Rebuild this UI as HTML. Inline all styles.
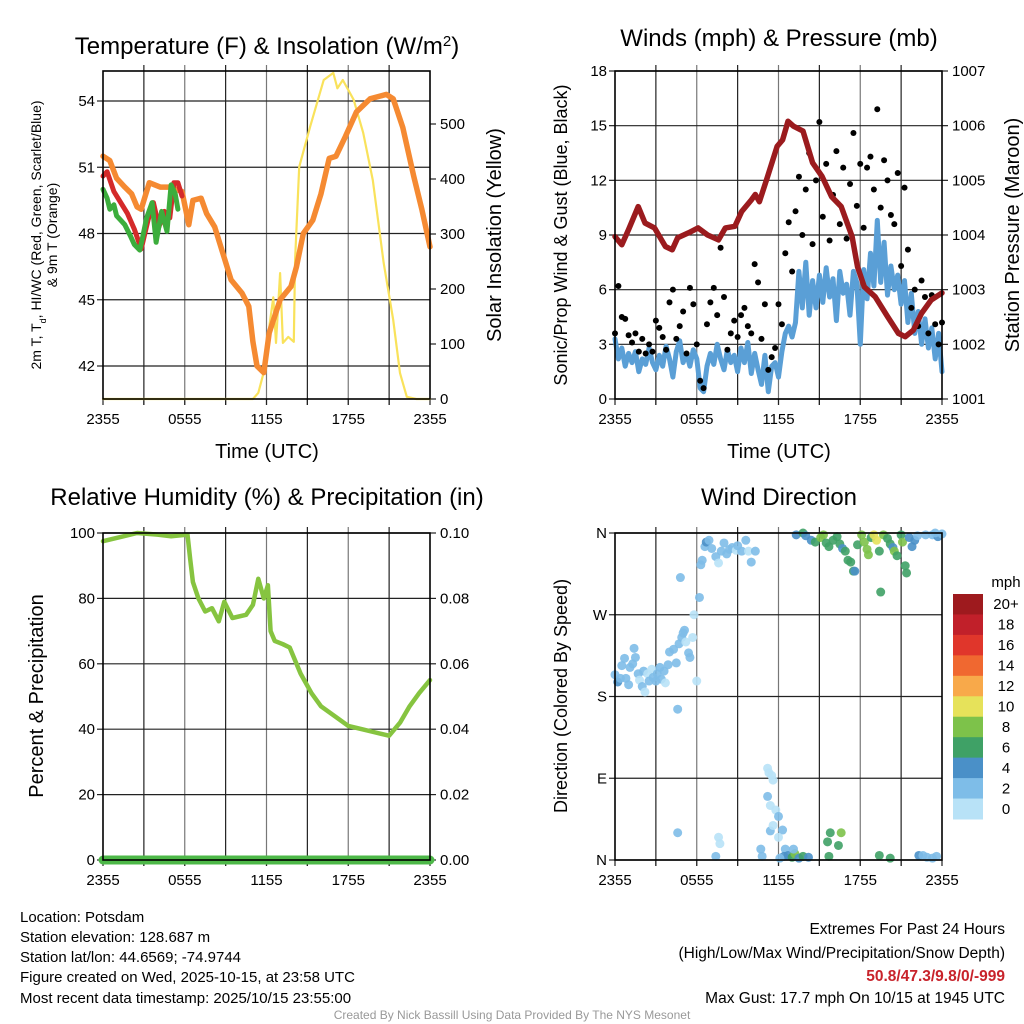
<!DOCTYPE html>
<html><head><meta charset="utf-8"><style>
html,body{margin:0;padding:0;background:#fff;}
svg{display:block;font-family:"Liberation Sans",Arial,sans-serif;}
</style></head><body>
<svg id="c" width="1024" height="1024" viewBox="0 0 1024 1024" xmlns="http://www.w3.org/2000/svg">
<rect width="1024" height="1024" fill="#fff"/>
<text x="267" y="54" font-size="24" text-anchor="middle">Temperature (F) &amp; Insolation (W/m<tspan baseline-shift="super" font-size="15">2</tspan>)</text>
<text x="779" y="46" font-size="24" text-anchor="middle">Winds (mph) &amp; Pressure (mb)</text>
<text x="267" y="505" font-size="24" text-anchor="middle">Relative Humidity (%) &amp; Precipitation (in)</text>
<text x="779" y="505" font-size="24" text-anchor="middle">Wind Direction</text>
<text transform="translate(41,235) rotate(-90)" font-size="14" text-anchor="middle">2m T, T<tspan baseline-shift="sub" font-size="9">d</tspan>, HI/WC (Red, Green, Scarlet/Blue)</text>
<text transform="translate(57,235) rotate(-90)" font-size="14" text-anchor="middle">&amp; 9m T (Orange)</text>
<text transform="translate(501,235) rotate(-90)" font-size="20" text-anchor="middle">Solar Insolation (Yellow)</text>
<text transform="translate(567,235) rotate(-90)" font-size="18" text-anchor="middle">Sonic/Prop Wind &amp; Gust (Blue, Black)</text>
<text transform="translate(1019,235) rotate(-90)" font-size="20" text-anchor="middle">Station Pressure (Maroon)</text>
<text transform="translate(43,696) rotate(-90)" font-size="20" text-anchor="middle">Percent &amp; Precipitation</text>
<text transform="translate(567,696) rotate(-90)" font-size="18" text-anchor="middle">Direction (Colored By Speed)</text>
<text x="267" y="458" font-size="20" text-anchor="middle">Time (UTC)</text>
<text x="779" y="458" font-size="20" text-anchor="middle">Time (UTC)</text>
<g font-size="15">
<text x="20" y="922">Location: Potsdam</text>
<text x="20" y="942">Station elevation: 128.687 m</text>
<text x="20" y="962">Station lat/lon: 44.6569; -74.9744</text>
<text x="20" y="982">Figure created on Wed, 2025-10-15, at 23:58 UTC</text>
<text x="20" y="1003">Most recent data timestamp: 2025/10/15 23:55:00</text>
</g>
<g font-size="15.5" text-anchor="end">
<text x="1005" y="934">Extremes For Past 24 Hours</text>
<text x="1005" y="958">(High/Low/Max Wind/Precipitation/Snow Depth)</text>
<text x="1005" y="981" fill="#c8232b" font-weight="bold">50.8/47.3/9.8/0/-999</text>
<text x="1005" y="1003">Max Gust: 17.7 mph On 10/15 at 1945 UTC</text>
</g>
<text x="512" y="1019" font-size="12" fill="#999" text-anchor="middle">Created By Nick Bassill Using Data Provided By The NYS Mesonet</text>
<text x="1006" y="587" font-size="15" text-anchor="middle">mph</text>
<g id="layer"></g>
</svg>
<script>
// ---- data (hours since 2355) ----
const orangeHours=[0,0.5,1.0,1.6,2.1,2.5,2.8,3.4,4.2,4.9,5.8,6.3,6.6,7.2,7.6,8.2,8.8,9.4,10.2,10.7,11.0,11.3,11.8,12.2,13.0,13.8,14.2,14.7,15.4,16.0,16.6,17.1,17.8,18.6,19.6,20.8,21.3,22.0,22.8,23.4,24];
const orangeTemp=[51.5,51.3,50.5,50.1,49.8,49.2,49.1,50.3,50.1,50.1,49.9,48.4,49.5,49.6,48.9,48.3,47.1,45.9,45.3,44.7,43.1,42.0,41.7,43.5,45.0,45.6,46.5,48.0,48.6,49.8,51.4,51.5,52.4,53.5,54.1,54.3,54.1,52.8,50.6,49.1,47.4];
const redHours=[0,0.3,0.8,1.3,1.8,2.3,2.8,3.3,3.7,4.1,4.5,4.9,5.2,5.5,5.8];
const redTemp=[50.6,50.8,49.9,49.4,48.9,48.2,47.3,48.6,49.4,48.3,49.0,48.7,50.3,50.3,49.7];
const greenHours=[0,0.3,0.5,0.8,1.0,1.3,1.6,2.0,2.3,2.7,2.9,3.2,3.6,3.9,4.3,4.7,5.0,5.3,5.5];
const greenTemp=[50.0,49.6,49.1,49.3,48.8,48.6,48.4,47.9,47.5,47.25,47.8,48.7,49.4,47.6,49.0,48.1,50.2,49.8,49.1];
const solarHours=[0,11.0,11.4,11.9,12.2,12.5,12.7,13.0,13.2,13.6,14.0,14.1,14.4,15.2,16.2,16.9,17.2,17.6,18.4,19.1,19.8,20.6,21.3,21.8,22.3,23,24];
const solarWm2=[0,0,11,58,130,185,102,229,102,113,104,253,422,495,580,593,565,580,544,484,398,247,144,47,4,0,0];
const pressHours=[0,0.5,1.0,1.7,2.2,2.9,3.7,4.2,4.6,5.4,6.1,6.8,7.6,8.1,8.8,9.3,10.0,10.3,10.6,11.2,11.9,12.3,12.7,13.1,13.8,14.5,15.2,15.9,16.6,17.4,17.8,18.3,19.1,20.0,20.8,21.3,21.9,22.5,23.2,24];
const pressMb=[1003.97,1003.82,1004.1,1004.52,1004.22,1004.13,1003.79,1003.73,1003.95,1004.04,1004.13,1004.0,1003.91,1004.13,1004.16,1004.43,1004.64,1004.74,1004.61,1005.07,1005.62,1005.74,1006.08,1005.99,1005.9,1005.32,1005.07,1004.7,1004.52,1003.97,1003.42,1003.05,1002.87,1002.51,1002.2,1002.14,1002.26,1002.57,1002.81,1002.94];
const windMph=[3.3,2.2,2.8,1.8,2.5,2.0,2.6,1.5,2.2,1.9,2.8,2.0,1.6,
2.4,1.8,2.9,2.2,1.2,2.6,3.2,2.0,2.5,1.8,2.7,2.2,
0.6,0.4,1.8,2.5,1.9,3.0,2.2,1.6,2.7,2.0,2.4,1.5,
2.8,2.0,3.1,1.4,2.5,1.6,0.8,2.4,0.4,1.8,2.0,1.2,
2.6,3.6,4.0,3.4,4.2,7.0,5.0,7.5,4.6,6.5,5.0,6.8,
5.3,7.2,5.6,6.6,4.3,7.0,5.8,6.3,4.6,7.0,6.4,3.0,
7.1,5.5,8.0,6.2,9.8,6.4,8.6,5.7,7.3,6.0,6.8,5.2,
6.5,4.2,5.8,3.6,4.8,3.0,4.4,2.8,3.9,2.2,3.6,1.5];
const gustMph=[3.6,6.2,4.5,4.4,3.5,3.1,3.6,2.6,3.3,2.5,3.0,2.6,4.3,
3.9,3.4,2.7,5.3,6.0,3.3,4.0,4.8,2.5,6.1,5.2,3.0,
1.0,0.6,4.1,5.3,6.1,4.6,8.3,5.6,2.7,3.6,4.3,3.4,
4.6,5.0,4.0,3.6,7.4,6.4,3.3,5.2,1.6,2.3,2.8,5.2,
4.1,8.0,9.7,7.0,10.3,12.2,9.0,11.5,13.5,8.5,12.0,15.2,
10.0,12.9,8.7,11.2,13.6,9.6,12.7,8.8,11.8,14.6,10.6,12.9,
9.4,12.7,13.3,11.5,15.9,10.5,13.1,12.0,10.1,9.6,12.4,7.3,
11.6,8.2,5.0,6.0,4.0,6.5,5.6,3.6,5.7,4.1,3.0,4.2];
const rhHours=[0,1.5,2.5,4,5,6.2,6.4,6.6,7,7.5,8,8.5,8.9,9.5,10.5,11.0,11.4,11.8,12.1,12.3,12.6,13.2,13.7,14.5,15.3,16,17,18,19,20,21,21.8,22.5,23.2,24];
const rhPct=[97.5,99,100,99.5,99,99.5,92,85,80,76,77,73,79,74,75,78,86,80,84,70,67,66,65,57,51,47,44,41,40,39,38,42,47,51,55];
const precipIn=[0,0,0,0,0,0,0,0,0,0,0,0,0,0,0,0,0,0,0,0,0,0,0,0,0];
const dirHours=[0.0,0.2,0.4,0.5,0.7,0.8,1.0,1.1,1.3,1.4,1.5,1.7,1.8,2.0,2.1,2.2,2.4,2.5,2.7,2.8,3.0,3.1,3.3,3.4,3.6,3.7,3.9,4.0,4.3,4.5,4.6,4.7,4.8,4.9,5.0,5.1,5.2,5.4,5.5,5.7,5.8,6.0,6.2,6.3,6.4,6.6,6.7,6.9,7.1,7.4,7.6,7.8,8.0,8.2,8.4,8.6,8.9,9.0,9.3,9.6,9.8,10.0,10.3,
11.2,11.3,11.5,11.6,11.2,11.4,11.8,12.0,11.4,11.6,12.3,12.0,12.5,12.4,12.7,13.0,13.2,13.5,13.8,14.2,13.1,12.1,
4.6,7.6,7.7,7.4,10.7,10.8,15.8,16.6,15.6,16.4,15.7,19.4,20.2,22.3,22.6,22.9,23.3,23.6,
13.3,13.8,14.0,14.4,14.7,15.1,15.3,15.5,15.7,16.0,16.3,16.5,16.7,16.9,17.1,17.3,17.5,17.6,17.8,18.1,18.3,18.5,18.6,18.8,19.0,19.2,19.4,19.5,19.7,20.0,20.2,20.4,20.5,20.7,21.0,21.1,21.3,21.4,21.6,21.8,22.0,22.2,22.8,23.3,23.7,24.0,23.5];
const dirDeg=[204,196,200,214,222,200,193,212,216,233,223,205,198,191,208,185,205,197,210,201,197,205,212,199,208,195,215,229,232,217,166,238,311,245,250,253,240,228,223,245,270,197,289,325,330,345,350,352,343,334,327,340,349,337,342,344,341,346,340,352,340,328,340,
101,96,93,88,70,60,55,48,32,38,33,25,12,4,5,3,7,2,4,3,12,2,
30,25,18,4,12,4,30,30,20,16,4,5,2,5,5,3,2,4,
358,360,357,352,350,355,358,349,345,352,356,348,343,340,330,328,318,318,347,358,350,342,336,355,358,352,340,295,358,354,348,344,340,335,358,350,324,316,355,345,352,357,358,358,356,359,360];
const dirSpeed=[2,4,2,2,2,2,2,2,2,2,2,2,0,2,2,0,0,2,0,2,2,2,2,2,2,0,2,2,2,2,2,2,2,2,2,2,0,2,2,0,0,0,2,2,2,2,4,2,2,2,0,2,2,2,2,2,0,2,2,2,0,2,2,
0,0,0,0,2,0,0,2,2,0,2,0,2,4,4,6,8,4,6,4,2,2,
2,0,0,2,2,2,6,8,6,6,6,6,6,4,2,2,2,2,
4,6,4,4,6,8,8,6,6,6,6,6,4,6,6,6,6,4,6,8,8,8,8,6,10,10,6,6,8,6,6,4,8,6,6,8,6,6,4,4,4,2,2,2,4,2,2];
const speedLabels=['0','2','4','6','8','10','12','14','16','18','20+'];
const speedColors=['#b8e2f7','#7ebde8','#4a90c8','#3fa166','#7dc24a','#e6e25a','#f8a94a','#f06830','#e0362b','#c1202a','#9e1a1e'];
const timeTickLabels=['2355','0555','1155','1755','2355'];
const tempTicks=[42,45,48,51,54];
const solarTicks=[0,100,200,300,400,500];
const windTicks=[0,3,6,9,12,15,18];
const pressTicks=[1001,1002,1003,1004,1005,1006,1007];
const rhTicks=[0,20,40,60,80,100];
const precipTicks=['0.00','0.02','0.04','0.06','0.08','0.10'];
const dirTicks=[0,90,180,270,360];
const dirTickLabels=['N','E','S','W','N'];

const NS='http://www.w3.org/2000/svg';
const layer=document.getElementById('layer');
function E(tag,parent){const e=document.createElementNS(NS,tag);(parent||layer).appendChild(e);return e;}
function lin(d0,d1,r0,r1){return v=>r0+(v-d0)*(r1-r0)/(d1-d0);}

const P=[
 {x0:103,x1:430,y0:71,y1:399},
 {x0:615,x1:942,y0:71,y1:399},
 {x0:103,x1:430,y0:533,y1:860},
 {x0:615,x1:942,y0:533,y1:860}];
P.forEach(p=>{p.x=lin(0,24,p.x0,p.x1);});
const yT=lin(42,54,366,101), yS=lin(0,500,399,124);
const yW=lin(0,18,399,71), yP=lin(1001,1007,399,71);
const yR=lin(0,100,860,533), yPr=lin(0,0.1,860,533);
const yD=lin(0,360,860,533);

function line(x1,y1,x2,y2,stroke,w,name){const l=E('line');l.setAttribute('x1',x1);l.setAttribute('y1',y1);l.setAttribute('x2',x2);l.setAttribute('y2',y2);l.setAttribute('stroke',stroke);l.setAttribute('stroke-width',w);


return l;}
function txt(x,y,s,anchor,size,name){const t=E('text');t.setAttribute('x',x);t.setAttribute('y',y);t.setAttribute('text-anchor',anchor);t.setAttribute('font-size',size);t.textContent=s;


return t;}

P.forEach((p,i)=>{
  for(let k=1;k<8;k++){const xx=p.x(k*3);line(xx,p.y0-6,xx,p.y1+6,k%2?'#222':'#777',1.2,'x-grid-line');}
  for(let k=0;k<=8;k++){const xx=p.x(k*3);line(xx,p.y1,xx,p.y1+6,'#222',1.2,'x-tick');}
  timeTickLabels.forEach((s,k)=>txt(p.x(k*6),p.y1+25,s,'middle',15,'x-tick-label'));
});
function yaxis(p,ticks,scale,labels,side,name){
  ticks.forEach((v,k)=>{const yy=scale(v);
    line(p.x0,yy,p.x1,yy,'#222',1.2,name+'-grid');
    if(side==='left'){line(p.x0-6,yy,p.x0,yy,'#222',1.2,name+'-tick');txt(p.x0-8,yy+5,labels?labels[k]:String(v),'end',15,name+'-tick-label');}
    else{line(p.x1,yy,p.x1+6,yy,'#222',1.2,name+'-tick');txt(p.x1+10,yy+5,labels?labels[k]:String(v),'start',15,name+'-tick-label');}
  });
}
yaxis(P[0],tempTicks,yT,null,'left','temp-axis');
solarTicks.forEach(v=>{const yy=yS(v);line(P[0].x1,yy,P[0].x1+6,yy,'#222',1.2,'solar-tick');txt(P[0].x1+10,yy+5,String(v),'start',15,'solar-tick-label');});
yaxis(P[1],windTicks,yW,null,'left','wind-axis');
pressTicks.forEach(v=>{const yy=yP(v);line(P[1].x1,yy,P[1].x1+6,yy,'#222',1.2,'pressure-tick');txt(P[1].x1+10,yy+5,String(v),'start',15,'pressure-tick-label');});
yaxis(P[2],rhTicks,yR,null,'left','rh-axis');
precipTicks.forEach((s,k)=>{const yy=yPr(k*0.02);line(P[2].x1,yy,P[2].x1+6,yy,'#222',1.2,'precip-tick');txt(P[2].x1+10,yy+5,s,'start',15,'precip-tick-label');});
yaxis(P[3],dirTicks,yD,dirTickLabels,'left','dir-axis');

function path(xs,ys,p,ysc,color,w,name){
  let d='';xs.forEach((h,i)=>{d+=(i?'L':'M')+p.x(h).toFixed(1)+','+ysc(ys[i]).toFixed(1);});
  const e=E('path');e.setAttribute('d',d);e.setAttribute('fill','none');e.setAttribute('stroke',color);e.setAttribute('stroke-width',w);e.setAttribute('stroke-linejoin','round');e.setAttribute('stroke-linecap','round');
  
  
  return e;
}
function hrs(arr){return arr.map((v,i)=>i*24/(arr.length-1));}

path(solarHours,solarWm2,P[0],yS,'#f9e25b',2.2,'solar-insolation-line');
path(orangeHours,orangeTemp,P[0],yT,'#f58a32',5.5,'temp-9m-line');
path(redHours,redTemp,P[0],yT,'#d42a2a',5,'temp-2m-line');
path(greenHours,greenTemp,P[0],yT,'#3cad3c',5,'dewpoint-line');
path(hrs(windMph),windMph,P[1],yW,'#5a9fd6',5,'sonic-wind-line');
gustMph.forEach((g,i)=>{const c=E('circle');c.setAttribute('cx',P[1].x(i*24/(gustMph.length-1)));c.setAttribute('cy',yW(g));c.setAttribute('r',3);c.setAttribute('fill','#000');

});
path(pressHours,pressMb,P[1],yP,'#9b1b1e',5.5,'pressure-line');
path(rhHours,rhPct,P[2],yR,'#86c440',4.5,'relative-humidity-line');
path(hrs(precipIn),precipIn,P[2],yPr,'#4db848',9,'precipitation-line');
dirDeg.forEach((d,i)=>{const c=E('circle');c.setAttribute('cx',P[3].x(dirHours[i]));c.setAttribute('cy',yD(d));c.setAttribute('r',4.5);
const ci=Math.min(10,Math.round(dirSpeed[i]/2));c.setAttribute('fill',speedColors[ci]);c.setAttribute('fill-opacity','0.9');

});
P.forEach(p=>{const r=E('rect');r.setAttribute('x',p.x0);r.setAttribute('y',p.y0);r.setAttribute('width',p.x1-p.x0);r.setAttribute('height',p.y1-p.y0);r.setAttribute('fill','none');r.setAttribute('stroke','#000');r.setAttribute('stroke-width',1.6);

});
const cbTop=594,cbH=225/11;
speedColors.forEach((col,k)=>{const r=E('rect');const idx=10-k;r.setAttribute('x',953);r.setAttribute('y',cbTop+k*cbH);r.setAttribute('width',30);r.setAttribute('height',cbH+0.5);r.setAttribute('fill',speedColors[idx]);


txt(1006,cbTop+k*cbH+cbH/2+5,speedLabels[idx],'middle',15,'colorbar-label');});
</script>
</body></html>
